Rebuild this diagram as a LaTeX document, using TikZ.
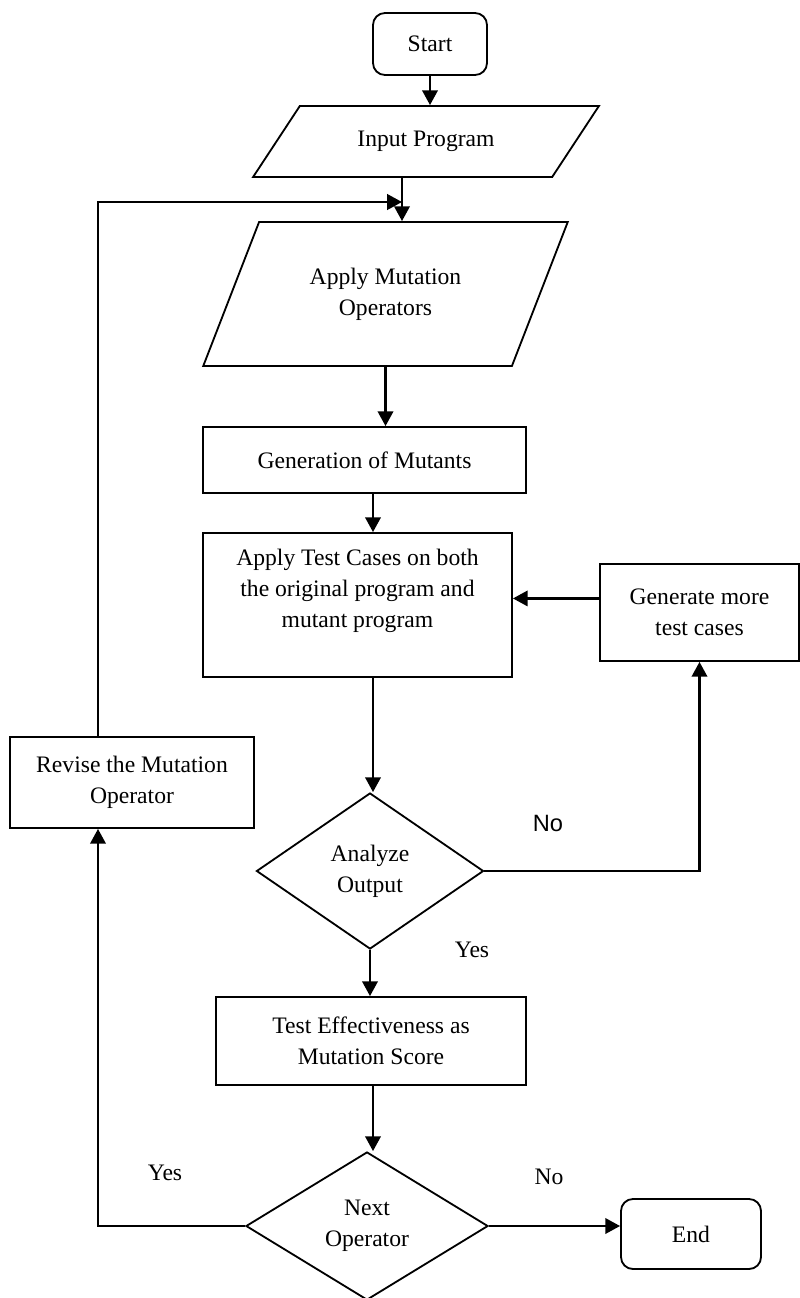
\documentclass[tikz,border=0pt]{standalone}
\usepackage{fontspec}
\setmainfont{Liberation Serif}
\newfontfamily\sansno{Liberation Sans}
\usetikzlibrary{arrows.meta,shapes.geometric,calc}

\begin{document}
\begin{tikzpicture}[
      x=0.025cm, y=-0.025cm,
      font=\fontsize{16.8}{22}\selectfont,
      box/.style={draw, line width=1.3pt, align=center, inner sep=0pt},
      term/.style={box, rounded corners=0.3cm},
      io/.style={box, trapezium, trapezium stretches=true},
      decide/.style={box, diamond},
      txt/.style={align=center, inner sep=0pt},
      arr/.style={-{Triangle[length=10.5pt,width=11pt]}, line width=1.6pt}
    ]
      \useasboundingbox (0,0) rectangle (800,1298);
      % main column
      \node[term, minimum width=2.85cm, minimum height=1.55cm] (start) at (430,44) {Start};
      \node[io, trapezium left angle=39, trapezium right angle=141, minimum width=8.65cm, minimum height=1.775cm] (input) at (426,141.5) {Input Program};
      \node[io, trapezium left angle=57.4, trapezium right angle=122.6, minimum width=9.125cm, minimum height=3.6cm] (mutate) at (385.5,294) {Apply Mutation\\Operators};
      \node[box, minimum width=8.075cm, minimum height=1.65cm] (gen) at (364.5,460) {Generation of Mutants};
      \node[box, minimum width=7.725cm, minimum height=3.6cm] (apply) at (357.5,605) {};
      \node[txt] (applytext) at (357.5,591) {Apply Test Cases on both\\the original program and\\mutant program};
      \node[decide, aspect=1.45, minimum width=5.675cm, minimum height=3.9cm] (analyze) at (370,871) {Analyze\\Output};
      \node[box, minimum width=7.75cm, minimum height=2.2cm] (score) at (371,1041) {Test Effectiveness as\\Mutation Score};
      \node[decide, aspect=1.6, minimum width=6.05cm, minimum height=3.7cm] (next) at (367,1226) {Next\\Operator};
      % side boxes
      \node[box, minimum width=4.975cm, minimum height=2.425cm] (more) at (699.5,612.5) {Generate more\\test cases};
      \node[box, minimum width=6.1cm, minimum height=2.275cm] (revise) at (132,782.5) {Revise the Mutation\\Operator};
      \node[term, minimum width=3.5cm, minimum height=1.75cm] (end) at (691,1234) {End};
      % routing points
      \coordinate (join) at (402,202);
      \coordinate (loop) at (98,0);
      \coordinate (spine) at (373,0);
      % connectors
      \draw[arr] (start.south) -- (start.south |- input.north);
      \draw[arr] (join |- input.south) -- (join |- mutate.north);
      \draw[arr] (loop |- revise.north) |- (join);
      \draw[arr] (mutate.south) -- (mutate.south |- gen.north);
      \draw[arr] (spine |- gen.south) -- (spine |- apply.north);
      \draw[arr] ([yshift=10pt]more.west) -- ([yshift=10pt]more.west -| apply.east);
      \draw[arr] (spine |- apply.south) -- (spine |- analyze.north);
      \draw[arr] (analyze.east) -| (more.south);
      \draw[arr] (analyze.south) -- (analyze.south |- score.north);
      \draw[arr] (spine |- score.south) -- (spine |- next.north);
      \draw[arr] (next.west) -| (loop |- revise.south);
      \draw[arr] (next.east) -- (next.east -| end.west);
      % labels
      \node[font=\sansno\fontsize{16.8}{22}\selectfont] (no1) at (548,823) {No};
      \node (yes1) at (472,950) {Yes};
      \node (yes2) at (165,1173) {Yes};
      \node (no2) at (549,1177) {No};
    \end{tikzpicture}
\end{document}
